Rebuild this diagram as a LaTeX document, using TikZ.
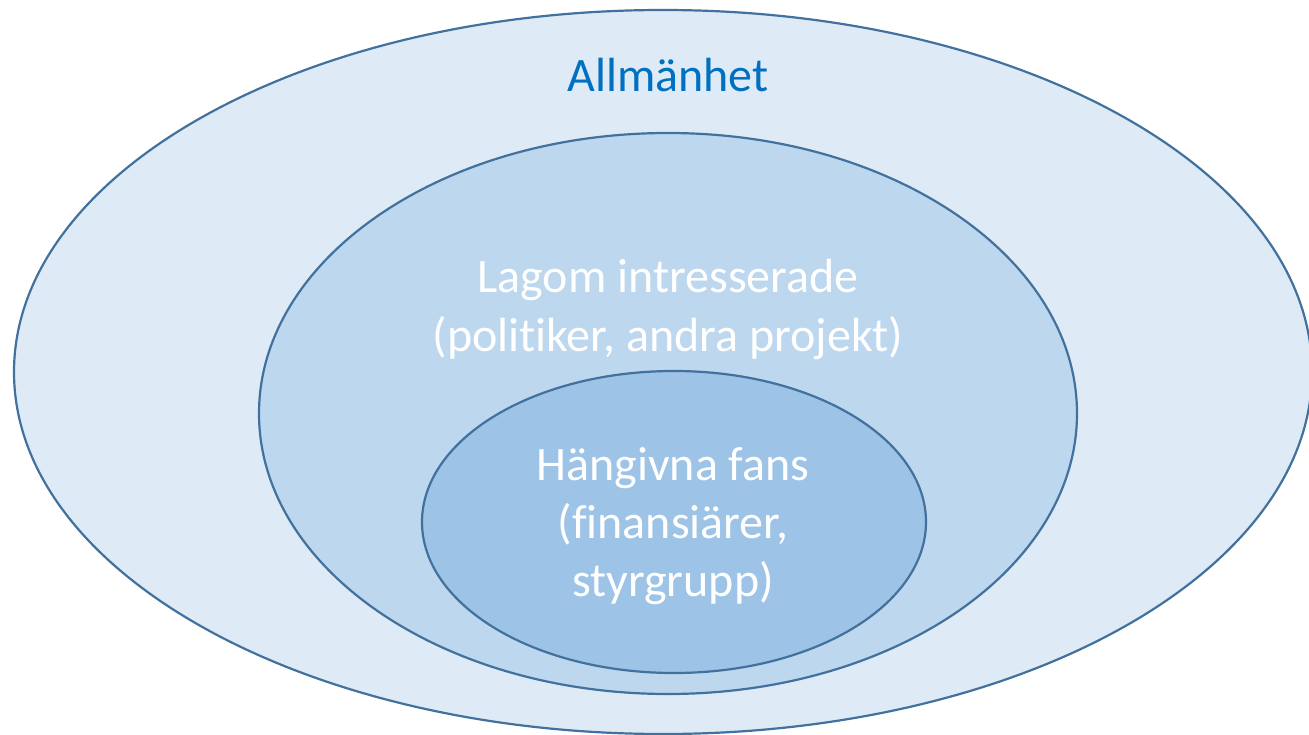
\documentclass[tikz,border=0pt]{standalone}
\usepackage{fontspec}
\setmainfont{Carlito}[RawFeature={-liga}]
\definecolor{outerfill}{RGB}{222,235,247}
\definecolor{midfill}{RGB}{189,215,238}
\definecolor{innerfill}{RGB}{157,195,230}
\definecolor{edge}{RGB}{65,113,156}
\definecolor{titleblue}{RGB}{0,112,192}
\begin{document}
\begin{tikzpicture}[x=1pt,y=-1pt,
  ring/.style={draw=edge,line width=2.2pt},
  lbl/.style={anchor=base,inner sep=0pt,font=\fontsize{48}{58}\selectfont},
  wlbl/.style={lbl,text=white}]
\useasboundingbox (0,0) rectangle (1309,735);
\clip (0,0) rectangle (1309,735);
\fill[white] (0,0) rectangle (1309,735);
\draw[ring,fill=outerfill] (663,372) ellipse [x radius=649, y radius=362];
\draw[ring,fill=midfill] (668,413.5) ellipse [x radius=409, y radius=280.5];
\draw[ring,fill=innerfill] (674,522) ellipse [x radius=252, y radius=151];
\node[lbl,text=titleblue] (t1) at (668,92) {Allmänhet};
\node[wlbl] (m1) at (668,293) {Lagom intresserade};
\node[wlbl] (m2) at (668,351) {(politiker, andra projekt)};
\node[wlbl] (i1) at (673,480) {Hängivna fans};
\node[wlbl] (i2) at (673,538) {(finansiärer,};
\node[wlbl] (i3) at (673,596) {styrgrupp)};
\end{tikzpicture}
\end{document}
